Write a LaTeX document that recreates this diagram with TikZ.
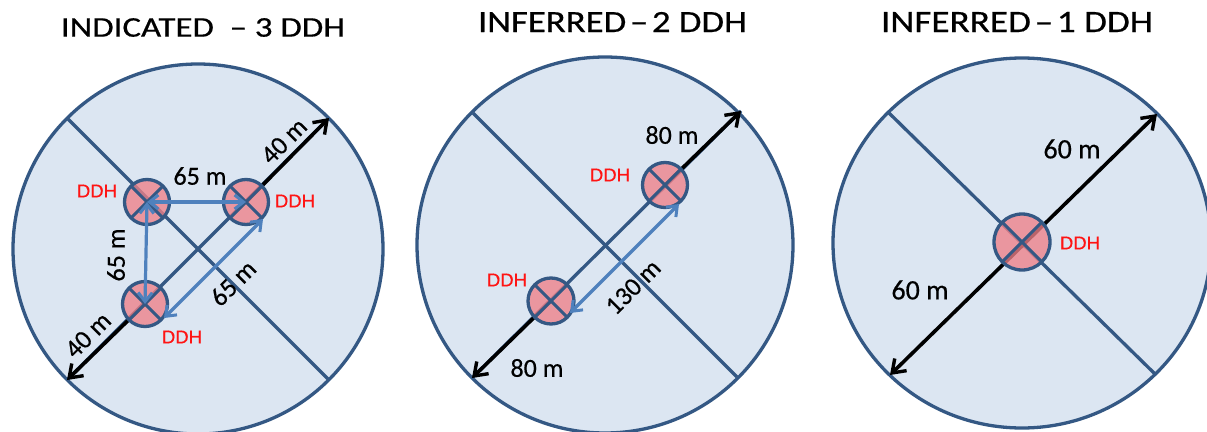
\documentclass[tikz,border=0pt]{standalone}
\usepackage{fontspec}
\setmainfont{Carlito}[BoldFont=Carlito, BoldFeatures={FakeBold=0.5}]
\newfontfamily\arialf{Liberation Sans}[BoldFont=Liberation Sans, BoldFeatures={FakeBold=0.4}]
\usetikzlibrary{arrows.meta,calc}
\definecolor{disc}{RGB}{220,230,242}
\definecolor{navy}{RGB}{52,88,132}
\definecolor{arrowblue}{RGB}{79,129,189}
\definecolor{ddhpink}{RGB}{238,128,136}
\definecolor{ddhred}{RGB}{255,20,20}
\tikzset{
  disk/.style={draw=navy, line width=3.3pt, fill=disc},
  diam/.style={draw=navy, line width=3.3pt},
  bhead/.tip={Straight Barb[length=12pt,width=17pt,line width=3.4pt]},
  lhead/.tip={Straight Barb[length=9pt,width=14pt,line width=3pt]},
  blackarrow/.style={draw=black, line width=3.6pt, -bhead},
  blackdouble/.style={draw=black, line width=3.6pt, bhead-bhead},
  bluearrow/.style={draw=arrowblue, line width=3.2pt, lhead-lhead},
  ddhdisk/.style={draw=navy, line width=3.3pt, fill=ddhpink, fill opacity=0.78},
  ddhx/.style={draw=navy, line width=3pt},
  ddhlabel/.style={text=ddhred, font=\arialf\bfseries\fontsize{18.5}{18.5}\selectfont, inner sep=0pt},
  dimlabel/.style={text=black, font=\bfseries\fontsize{26}{26}\selectfont, inner sep=0pt},
  biglabel/.style={text=black, font=\bfseries\fontsize{28}{28}\selectfont, inner sep=0pt},
  titlelabel/.style={text=black, font=\bfseries, inner sep=0pt}
}
\newcommand{\ddhsym}[2]{% center name, radius
  \draw[ddhdisk] (#1) circle (#2pt);
  \draw[ddhx] ($(#1)+(-0.7071*#2,-0.7071*#2)$) -- ($(#1)+(0.7071*#2,0.7071*#2)$);
  \draw[ddhx] ($(#1)+(-0.7071*#2,0.7071*#2)$) -- ($(#1)+(0.7071*#2,-0.7071*#2)$);
}
\begin{document}
\begin{tikzpicture}[x=1pt,y=-1pt]
\useasboundingbox (0,0) rectangle (1207,431);
\fill[white] (0,0) rectangle (1207,431);

% ---------- titles
\node[titlelabel] (t1) at (203,27.5) {\resizebox{284pt}{18.5pt}{INDICATED\ \ –\ 3 DDH}};
\node[titlelabel] (t2) at (612.5,22) {\resizebox{269pt}{20pt}{INFERRED\kern1pt–\kern1pt2 DDH}};
\node[titlelabel] (t3) at (1017,22) {\resizebox{272pt}{20pt}{INFERRED\kern1pt–\kern1pt1 DDH}};

% ---------- panel 1
\coordinate (c1) at (198,249);
\coordinate (p1nw) at (67,118);
\coordinate (p1se) at (329,380);
\coordinate (p1ne) at (329,118);
\coordinate (p1sw) at (67,380);
\coordinate (tl) at (147,202);
\coordinate (tr) at (246,202);
\coordinate (bb) at (145,304);
\coordinate (d1a) at (263,219);
\coordinate (d1b) at (164,318);
\draw[disk] (c1) circle (185pt);
\draw[diam] (p1nw) -- (p1se);
\draw[diam] (p1sw) -- (p1ne);
\draw[blackarrow] (tr) -- (p1ne);
\draw[blackarrow] (bb) -- (p1sw);
\ddhsym{tl}{22.5}
\ddhsym{tr}{22.5}
\ddhsym{bb}{22.5}
\draw[bluearrow] (tl) -- (tr);
\draw[bluearrow] (tl) -- (bb);
\draw[bluearrow] (d1a) -- (d1b);
\node[dimlabel] (l1a) at (200,176) {65 m};
\node[dimlabel, rotate=90] (l1b) at (116,255) {65 m};
\node[dimlabel, rotate=45] (l1c) at (233,283) {65 m};
\node[dimlabel, rotate=45] (l1d) at (284,141) {40 m};
\node[dimlabel, rotate=45] (l1e) at (88,335) {40 m};
\node[ddhlabel] (h1a) at (97,191) {DDH};
\node[ddhlabel] (h1b) at (295,201) {DDH};
\node[ddhlabel] (h1c) at (182,337) {DDH};

% ---------- panel 2
\coordinate (c2) at (605,245);
\coordinate (p2nw) at (473,113);
\coordinate (p2se) at (737,377);
\coordinate (p2ne) at (741,111);
\coordinate (p2sw) at (472,378);
\coordinate (u2) at (665,185);
\coordinate (l2) at (551,301);
\coordinate (d2a) at (679,204);
\coordinate (d2b) at (570,313);
\draw[disk] (c2) circle (188pt);
\draw[diam] (p2nw) -- (p2se);
\draw[diam] (p2sw) -- (p2ne);
\draw[blackarrow] (u2) -- (p2ne);
\draw[blackarrow] (l2) -- (p2sw);
\ddhsym{u2}{22.5}
\ddhsym{l2}{23}
\draw[bluearrow] (d2a) -- (d2b);
\node[dimlabel] (l2a) at (672,135) {80 m};
\node[dimlabel] (l2b) at (537,368) {80 m};
\node[dimlabel, rotate=45] (l2c) at (633,287) {130 m};
\node[ddhlabel] (h2a) at (610,175) {DDH};
\node[ddhlabel] (h2b) at (507,280) {DDH};

% ---------- panel 3
\coordinate (c3) at (1022,243);
\coordinate (p3nw) at (889,113);
\coordinate (p3se) at (1155,374);
\coordinate (p3ne) at (1157,114);
\coordinate (p3sw) at (890,375);
\draw[disk] (c3) ellipse (189pt and 185pt);
\draw[diam] (p3nw) -- (p3se);
\draw[blackdouble] (p3sw) -- (p3ne);
\coordinate (m3) at (1022,242);
\ddhsym{m3}{28}
\node[biglabel] (l3a) at (1072,149) {60 m};
\node[biglabel] (l3b) at (920,290) {60 m};
\node[ddhlabel] (h3) at (1080,243) {DDH};
\end{tikzpicture}
\end{document}
